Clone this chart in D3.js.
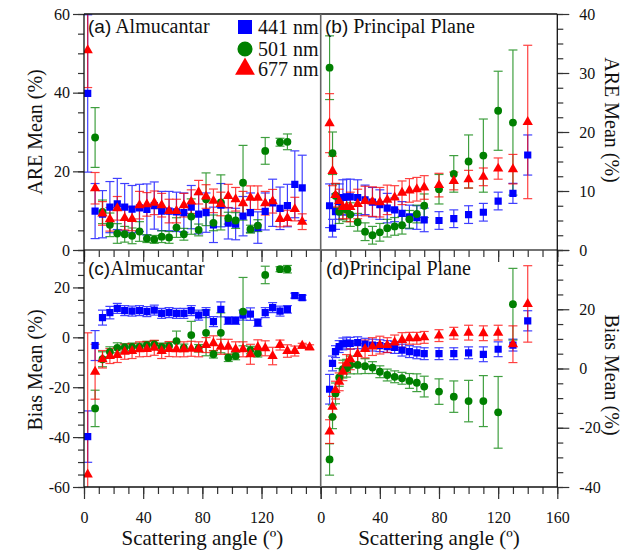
<!DOCTYPE html>
<html>
<head>
<meta charset="utf-8">
<script src="https://cdn.jsdelivr.net/npm/d3@7"></script>
<style>
body { margin: 0; background: #fff; }
text { font-family: "Liberation Serif", "Times New Roman", serif; fill: #111; }
</style>
</head>
<body>
<div id="chart"></div>
<script>
// scattering angles (degrees)
const almAngles = [2.5, 7.5, 12.5, 17.5, 22.5, 27.5, 32.5, 37.5, 42.5, 47.5, 52.5, 57.5, 62.5, 67.5, 72.5,
  77.5, 82.5, 87.5, 92.5, 97.5, 102.5, 107.5, 112.5, 117.5, 122.5, 127.5, 132.5, 137.5, 142.5, 147.5, 152.5];
const ppAngles = [6, 8, 10, 12.5, 15, 17.5, 20, 25, 30, 35, 40, 45, 50, 55, 60, 65, 70, 80, 90, 100, 110, 120, 130, 140];

// (a) ARE, almucantar
const areAlm441 = [39.8, 9.9, 9.1, 10.9, 11.7, 10.9, 10.4, 10.7, 10.3, 11.3, 9.9, 9.9, 9.7, 9.5, 10.9, 9.1, 9.5, 6.4, 11.4, 6.8, 6.6, 8.6, 9.5, 5.7, 9.8, 12.0, 10.6, 11.3, 16.7, 15.8, null];
const areAlm441Err = [20, 7, 6, 6.5, 6.5, 6, 6, 6, 6.5, 6, 5, 5, 5, 5, 5.5, 5, 5, 4.5, 5.5, 4, 4, 5, 5, 4, 4.7, 6, 5.4, 5.4, 8.5, 8.3, null];
const areAlm501 = [null, 28.6, 9.7, 6.4, 4.2, 4.0, 3.6, 4.7, 2.9, 2.7, 3.4, 3.2, 5.7, 4.0, 8.5, 5.1, 12.9, 6.9, 12.1, 8.1, 7.5, 17.1, 5.3, 6.2, 25.2, null, 27.4, 27.5, null, null, null];
const areAlm501Err = [null, 7.6, 3, 3, 2.5, 2, 2, 2.5, 1, 1, 1.5, 1.5, 2.5, 1.5, 4.5, 1.5, 6.7, 2, 7, 1.5, 2, 9.5, 1, 1.5, 3.4, null, 1, 2, null, null, null];
const areAlm677 = [50.8, 15.7, 9.3, 7.8, 10.6, 8.1, 7.9, 11.4, 11.6, 12.0, 11.4, 9.9, 9.9, 11.4, 12.3, 14.7, 13.6, 12.5, 11.7, 13.7, 12.9, 11.9, 13.3, 13.3, 11.9, 12.4, 7.9, 8.1, 10.4, 7.2, null];
const areAlm677Err = [9.5, 4, 3, 3, 3, 3, 3, 3.5, 3, 3, 3, 3, 3, 3, 3, 3, 3, 3, 3, 3, 3, 3, 3, 3, 3, 3, 2, 2, 3, 2, null];

// (b) ARE, principal plane
const arePP441 = [7.5, 3.7, 6.5, 8.2, 8.9, 9.0, 9.0, 8.9, 8.5, 8.1, 7.7, 7.1, 6.8, 6.2, 5.6, 5.5, 5.1, 5.0, 5.3, 6.0, 6.4, 8.3, 9.6, 16.1];
const arePP441Err = [3.7, 1.5, 3, 3, 3, 3, 3, 3, 2.5, 2.5, 2.5, 2.5, 2, 2, 2, 2, 2, 1.5, 1.5, 1.5, 1.5, 1.5, 1.7, 3.4];
const arePP501 = [30.9, 16.4, 9.2, 6.5, 7.1, 6.8, 6.0, 4.7, 3.1, 2.5, 3.0, 3.7, 4.0, 4.2, 5.2, 6.1, 7.5, 10.3, 12.9, 15.0, 16.0, 23.6, 21.6, null];
const arePP501Err = [5.4, 3.6, 2, 2, 2, 2, 2, 1.5, 1.5, 1.5, 1.5, 1.5, 1.5, 1.5, 1.5, 1.5, 2, 2.5, 3.1, 4.5, 6.2, 6.7, 12.3, null];
const arePP677 = [21.5, 13.4, 9.3, 8.3, 7.3, 7.3, 7.3, 7.8, 8.3, 8.2, 8.1, 8.5, 8.9, 9.7, 10.1, 10.3, 10.6, 11.0, 11.7, 12.0, 12.4, 13.8, 13.7, 21.7];
const arePP677Err = [5.0, 2.5, 2, 2, 2, 2, 2.5, 2.5, 2.5, 2.5, 2.5, 2.5, 2, 2, 2, 2, 2, 2, 1.5, 1.5, 1.5, 1.8, 2.5, 13];

// (c) Bias, almucantar
const biasAlm441 = [-39.8, -3.3, 7.9, 9.9, 11.6, 10.7, 10.5, 10.7, 10.3, 10.9, 9.6, 9.9, 9.6, 9.6, 10.7, 8.9, 9.9, 6.3, 11.2, 6.7, 6.7, 8.9, 9.3, 5.9, 9.9, 11.9, 10.5, 11.2, 16.7, 15.9, null];
const biasAlm441Err = [10.3, 6, 3, 2.5, 2, 2, 2, 2, 2, 2, 2, 2, 2, 2, 2, 2, 2, 2, 3, 1.5, 1.5, 2, 2.5, 1.5, 2, 2, 2, 1.5, 1, 1, null];
const biasAlm501 = [null, -28.5, -8.8, -5.8, -4.2, -4.0, -3.8, -3.8, -3.1, -2.8, -3.8, -3.5, -1.5, -4.2, 0.9, -4.4, 1.8, -6.8, 1.8, -8.2, -7.5, 10.3, -5.1, -6.4, 25.0, null, 27.3, 27.3, null, null, null];
const biasAlm501Err = [null, 7.3, 3, 2, 2, 1.5, 1.5, 1.5, 1.5, 1.5, 1.5, 1.5, 4, 1.5, 5.5, 1.5, 9.2, 1.5, 8, 1.5, 1.5, 13.7, 1.5, 1.5, 3.5, null, 1, 1.5, null, null, null];
const biasAlm677 = [-55.0, -13.8, -8.8, -7.5, -7.1, -5.8, -5.5, -4.8, -4.7, -4.2, -5.5, -4.7, -4.8, -4.8, -4.6, -4.8, -3.1, -2.4, -3.8, -3.8, -4.8, -4.8, -6.8, -4.0, -4.4, -7.5, -3.1, -5.5, -5.5, -3.4, -4.0];
const biasAlm677Err = [56.8, 11, 3.5, 3, 3, 3, 3, 3, 3, 3, 3, 3, 3, 3, 3, 3, 3, 3, 3, 3, 3, 3, 4, 3, 3, 3.5, 2, 2.5, 2, 1, 1];

// (d) Bias, principal plane
const biasPP441 = [-7.0, 1.7, 5.7, 7.4, 8.3, 8.6, 8.5, 8.7, 8.2, 7.9, 7.7, 7.4, 7.1, 6.2, 5.7, 5.3, 5.0, 5.0, 5.0, 5.3, 4.8, 6.5, 7.9, 16.1];
const biasPP441Err = [5, 2.5, 2, 2, 2, 2, 2, 2, 2, 2, 2, 2, 2, 2, 2, 2, 2, 2, 2, 2, 2.5, 2.5, 2, 3.4];
const biasPP501 = [-30.7, -16.3, -8.4, -3.0, -0.2, 0.1, 1.2, 1.2, 0.8, 0.3, -1.1, -2.2, -2.8, -3.3, -4.2, -4.8, -6.1, -7.8, -9.5, -11.0, -11.0, -14.8, 21.7, null];
const biasPP501Err = [5.3, 4, 3.5, 3, 3, 3, 3, 3, 2.5, 2, 2, 2, 2, 2, 2.5, 3, 3.5, 4.3, 5.3, 7, 8.6, 12.1, 12.1, null];
const biasPP677 = [-21.3, -12.9, -7.3, -4.5, -1.1, 1.7, 3.1, 4.9, 6.6, 7.4, 7.9, 7.9, 8.8, 9.6, 10.2, 10.2, 10.5, 11.1, 11.9, 12.1, 11.9, 12.1, 8.2, 21.8];
const biasPP677Err = [4, 3.5, 3, 3, 3, 3, 3.5, 3.5, 3, 3, 3, 2.5, 2.5, 2.5, 2, 2, 2, 2, 2, 2.5, 2.5, 2.5, 6.2, 12.9];

const legendNames = ["441 nm", "501 nm", "677 nm"];
const colors = ["#0000ff", "#008000", "#ff0000"];

const W = 633, H = 552;
const xL = 84, xM = 320.7, xR = 557.3, yT = 14, yM = 250, yB = 487;

const svg = d3.select("#chart").append("svg").attr("width", W).attr("height", H);

const xLeft = d3.scaleLinear().domain([0, 160]).range([xL, xM]);
const xRight = d3.scaleLinear().domain([0, 160]).range([xM, xR]);
const yAreL = d3.scaleLinear().domain([0, 60]).range([yM, yT]);
const yAreR = d3.scaleLinear().domain([0, 40]).range([yM, yT]);
const yBiasL = d3.scaleLinear().domain([-60, 35]).range([yB, yM]);
const yBiasR = d3.scaleLinear().domain([-40, 40]).range([yB, yM]);

const shapes = [d3.symbolSquare, d3.symbolCircle, d3.symbolTriangle];
const sizes = [52, 48, 46];

function stepVals(a, b, s) {
  let out = [];
  for (let v = a; v <= b + 1e-9; v += s) out.push(+v.toFixed(2));
  return out;
}

// minor + major ticks for one axis
function axis(gen, scale, minorStep, majorStep, labels, transform, size, pad) {
  const d = scale.domain();
  const g = svg.append("g").attr("transform", transform);
  g.append("g").call(gen(scale).tickValues(stepVals(d[0], d[1], minorStep)).tickSize(size[1]).tickFormat(""));
  const maj = g.append("g").call(gen(scale).tickValues(stepVals(Math.ceil(d[0] / majorStep) * majorStep, d[1], majorStep))
    .tickSize(size[0]).tickPadding(pad).tickFormat(v => labels.includes(v) ? v : ""));
  g.selectAll(".domain").remove();
  g.selectAll("line").attr("stroke", "#333").attr("stroke-width", 1.2);
  maj.selectAll("text").style("font-family", "Liberation Serif").style("font-size", "16px").attr("fill", "#111");
  return g;
}

// y axes
axis(d3.axisLeft, yAreL, 5, 20, [0, 20, 40, 60], `translate(${xL},0)`, [11, 6], 3);
axis(d3.axisLeft, yBiasL, 5, 20, [-60, -40, -20, 0, 20], `translate(${xL},0)`, [11, 6], 3);
axis(d3.axisRight, yAreR, 2.5, 10, [0, 10, 20, 30, 40], `translate(${xR},0)`, [12, 6], 10);
axis(d3.axisRight, yBiasR, 5, 20, [-40, -20, 0, 20], `translate(${xR},0)`, [12, 6], 10);
// x axes
axis(d3.axisBottom, xLeft, 10, 40, [], `translate(0,${yM})`, [12, 7], 13);
axis(d3.axisBottom, xRight, 10, 40, [], `translate(0,${yM})`, [12, 7], 13);
axis(d3.axisBottom, xLeft, 10, 40, [0, 40, 80, 120], `translate(0,${yB})`, [12, 7], 13);
axis(d3.axisBottom, xRight, 10, 40, [0, 40, 80, 120, 160], `translate(0,${yB})`, [12, 7], 13);

const panels = [
  { id: "a", x: xLeft, y: yAreL, xs: almAngles, box: [xL, yT, xM, yM],
    data: [[areAlm441, areAlm441Err], [areAlm501, areAlm501Err], [areAlm677, areAlm677Err]] },
  { id: "b", x: xRight, y: yAreR, xs: ppAngles, box: [xM, yT, xR, yM],
    data: [[arePP441, arePP441Err], [arePP501, arePP501Err], [arePP677, arePP677Err]] },
  { id: "c", x: xLeft, y: yBiasL, xs: almAngles, box: [xL, yM, xM, yB],
    data: [[biasAlm441, biasAlm441Err], [biasAlm501, biasAlm501Err], [biasAlm677, biasAlm677Err]] },
  { id: "d", x: xRight, y: yBiasR, xs: ppAngles, box: [xM, yM, xR, yB],
    data: [[biasPP441, biasPP441Err], [biasPP501, biasPP501Err], [biasPP677, biasPP677Err]] }
];

const defs = svg.append("defs");
panels.forEach(p => {
  const [x0, y0, x1, y1] = p.box;
  defs.append("clipPath").attr("id", "clip-" + p.id).append("rect")
    .attr("x", x0).attr("y", y0).attr("width", x1 - x0).attr("height", y1 - y0);
  const g = svg.append("g").attr("clip-path", `url(#clip-${p.id})`);
  p.data.forEach((s, k) => {
    const pts = p.xs.map((a, i) => ({ a: a, v: s[0][i], e: s[1][i] })).filter(d => d.v != null);
    const eb = g.append("g").attr("stroke", colors[k]).attr("stroke-width", 1.2).attr("opacity", 0.75);
    eb.selectAll(".bar").data(pts).join("line")
      .attr("x1", d => p.x(d.a)).attr("x2", d => p.x(d.a))
      .attr("y1", d => p.y(d.v - d.e)).attr("y2", d => p.y(d.v + d.e));
    [-1, 1].forEach(sgn => {
      eb.selectAll(".cap" + sgn).data(pts).join("line")
        .attr("x1", d => p.x(d.a) - 4.5).attr("x2", d => p.x(d.a) + 4.5)
        .attr("y1", d => p.y(d.v + sgn * d.e)).attr("y2", d => p.y(d.v + sgn * d.e));
    });
  });
  p.data.forEach((s, k) => {
    const pts = p.xs.map((a, i) => ({ a: a, v: s[0][i] })).filter(d => d.v != null);
    g.append("g").selectAll("path").data(pts).join("path")
      .attr("d", d3.symbol().type(shapes[k]).size(sizes[k]))
      .attr("transform", d => `translate(${p.x(d.a)},${p.y(d.v)})`)
      .attr("fill", colors[k]);
  });
});

// frame
const frame = svg.append("g").attr("stroke", "#111").attr("stroke-width", 1.3);
frame.append("line").attr("x1", xL).attr("x2", xR).attr("y1", yT).attr("y2", yT);
frame.append("line").attr("x1", xL).attr("x2", xR).attr("y1", yM).attr("y2", yM).attr("stroke", "#444");
frame.append("line").attr("x1", xL).attr("x2", xR).attr("y1", yB).attr("y2", yB);
frame.append("line").attr("x1", xL).attr("x2", xL).attr("y1", yT).attr("y2", yB);
frame.append("line").attr("x1", xR).attr("x2", xR).attr("y1", yT).attr("y2", yB);
frame.append("line").attr("x1", xM).attr("x2", xM).attr("y1", yT).attr("y2", yB)
  .attr("stroke", "#666").attr("stroke-width", 1.6);

// panel labels
const plabels = [
  ["(a)", " Almucantar", 88, 33],
  ["(b)", " Principal Plane", 325, 33],
  ["(c)", "Almucantar", 88, 275],
  ["(d)", "Principal Plane", 326, 275]
];
plabels.forEach(l => {
  const t = svg.append("text").attr("x", l[2]).attr("y", l[3]);
  t.append("tspan").style("font-family", "Liberation Sans").style("font-size", "19px").text(l[0]);
  t.append("tspan").style("font-size", "20px").text(l[1]);
});

// legend
legendNames.forEach((n, k) => {
  const ly = [27, 49, 69][k];
  svg.append("path").attr("d", d3.symbol().type(shapes[k]).size([196, 180, 170][k]))
    .attr("transform", `translate(245,${ly})`).attr("fill", colors[k]);
  svg.append("text").attr("x", 258).attr("y", ly + 7).style("font-size", "20px").text(n);
});

// axis titles
function title(txt, x, y, rot) {
  svg.append("text").attr("transform", `translate(${x},${y}) rotate(${rot})`)
    .attr("text-anchor", "middle").style("font-size", "20px").text(txt);
}
title("ARE Mean (%)", 42, 132, -90);
title("Bias Mean (%)", 42, 370, -90);
title("ARE Mean (%)", 605, 120, 90);
title("Bias Mean (%)", 605, 375, 90);
svg.append("text").attr("x", (xL + xM) / 2).attr("y", 545).attr("text-anchor", "middle")
  .style("font-size", "21px").text("Scattering angle (º)");
svg.append("text").attr("x", (xM + xR) / 2).attr("y", 545).attr("text-anchor", "middle")
  .style("font-size", "21px").text("Scattering angle (º)");
</script>
</body>
</html>
